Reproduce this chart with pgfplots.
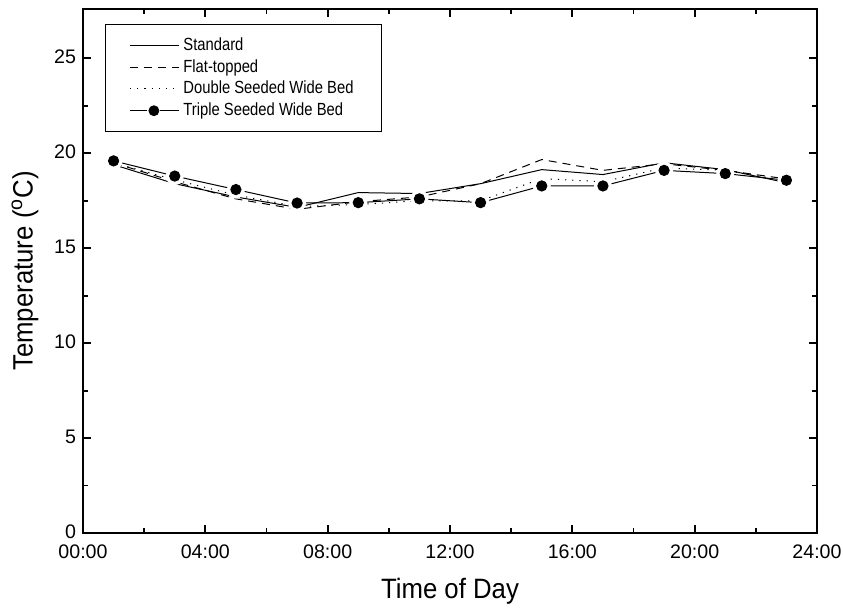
\documentclass[border=0pt]{standalone}
\usepackage{fontspec}
\setmainfont{Liberation Sans}
\newfontfamily\narrowfont[FakeStretch=0.84]{Liberation Sans}
\newfontfamily\labelfont[FakeStretch=0.92]{Liberation Sans}
\usepackage{pgfplots}
\pgfplotsset{compat=1.18}
\usetikzlibrary{calc}

\pgfplotstableread{
h   std    flat   dbl    tpl
1   19.40  19.50  19.50  19.60
3   18.40  18.50  18.60  18.80
5   17.70  17.60  17.80  18.09
7   17.15  17.05  17.20  17.38
9   17.93  17.45  17.30  17.40
11  17.88  17.70  17.50  17.60
13  18.40  18.40  17.50  17.40
15  19.14  19.67  18.67  18.28
17  18.88  19.10  18.50  18.28
19  19.50  19.45  19.23  19.10
21  19.14  19.10  19.10  18.93
23  18.45  18.65  18.55  18.58
}\temps

\begin{document}
\begin{tikzpicture}
\begin{axis}[
  scale only axis,
  width=367pt, height=262pt,
  xmin=0, xmax=24, ymin=0, ymax=27.6,
  xtick={0,4,...,24},
  xticklabels={00:00,04:00,08:00,12:00,16:00,20:00,24:00},
  ytick={0,5,...,25},
  minor x tick num=1, minor y tick num=1,
  tick align=inside,
  major tick length=4pt, minor tick length=2.5pt,
  axis line style={line width=1pt},
  every tick/.style={black,line width=0.9pt},
  tick label style={font=\fontsize{9.8}{11}\selectfont},
  xticklabel style={yshift=-2.2pt},
  yticklabel style={yshift=0.8pt},
  /pgf/number format/assume math mode=true,
  xlabel={\labelfont\fontsize{14}{16}\selectfont Time of Day},
  ylabel={\labelfont\fontsize{14}{16}\selectfont Temperature ($^{\mathrm{o}}$C)},
  xlabel style={yshift=-3pt},
  ylabel style={yshift=1pt},
  legend style={at={(0.030,0.971)},anchor=north west,draw=black,line width=0.4pt,
    font=\narrowfont\fontsize{8.8}{10}\selectfont,row sep=-1pt,
    inner xsep=12pt,inner ysep=4.5pt},
  legend cell align=left,
  legend image code/.code={\draw[#1] (0pt,0pt) -- (24.5pt,0pt);},
]
% triple line underneath, gaps cut by white discs
\addplot[black,line width=0.5pt,forget plot] table[x=h,y=tpl]{\temps};
\addplot[only marks,mark=*,mark size=4.3pt,white,forget plot] table[x=h,y=tpl]{\temps};
\addplot[black,line width=0.5pt] table[x=h,y=std]{\temps};
\addlegendentry{Standard}
\addplot[black,line width=0.5pt,dash pattern=on 4pt off 3pt] table[x=h,y=flat]{\temps};
\addlegendentry{Flat-topped}
\addplot[black,line width=0.5pt,dash pattern=on 0.6pt off 3pt] table[x=h,y=dbl]{\temps};
\addlegendentry{Double Seeded Wide Bed}
\addplot[only marks,mark=*,mark size=2.6pt,black,
  legend image code/.code={
    \draw[black,line width=0.5pt] (0pt,0pt) -- (8.5pt,0pt);
    \draw[black,line width=0.5pt] (15pt,0pt) -- (24.5pt,0pt);
    \fill[black] (12pt,0pt) circle (2.5pt);}]
  table[x=h,y=tpl]{\temps};
\addlegendentry{Triple Seeded Wide Bed}
\end{axis}
\pgfresetboundingbox
\path ($(current axis.south west)+(-41.5pt,-39pt)$) rectangle ($(current axis.north east)+(13pt,4.5pt)$);
\end{tikzpicture}
\end{document}
